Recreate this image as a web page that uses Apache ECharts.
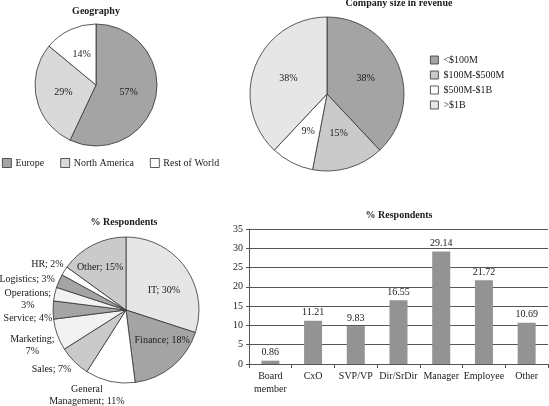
<!DOCTYPE html>
<html><head><meta charset="utf-8">
<script src="https://cdn.jsdelivr.net/npm/echarts@6/dist/echarts.min.js"></script>
<style>html,body{margin:0;padding:0;background:#fff}#c{width:549px;height:406px}</style>
</head><body><div id="c"></div>
<script>
// ---- data ----
const geoNames = ['Europe', 'North America', 'Rest of World'];
const geoValues = [57, 29, 14];

const sizeNames = ['<$100M', '$100M-$500M', '$500M-$1B', '>$1B'];
const sizeValues = [38, 15, 9, 38];

const funcNames = ['IT', 'Finance', 'General Management', 'Sales', 'Marketing', 'Service', 'Operations', 'Logistics', 'HR', 'Other'];
const funcValues = [30, 18, 11, 7, 7, 4, 3, 3, 2, 15];
const funcInside = ['IT', 'Finance', 'Other'];

const roleNames = ['Board\nmember', 'CxO', 'SVP/VP', 'Dir/SrDir', 'Manager', 'Employee', 'Other'];
const roleValues = [0.86, 11.21, 9.83, 16.55, 29.14, 21.72, 10.69];
const roleTicks = [0, 5, 10, 15, 20, 25, 30, 35];

// ---- styles ----
const FONT = '"Liberation Serif", "DejaVu Serif", serif';
const TXT = '#1a1a1a';
const LINE = '#333';
const geoColors = ['#a4a4a4', '#d9d9d9', '#ffffff'];
const sizeColors = ['#a4a4a4', '#cacaca', '#ffffff', '#e6e6e6'];
const funcColors = ['#e6e6e6', '#a4a4a4', '#ffffff', '#cacaca', '#f2f2f2', '#a4a4a4', '#f2f2f2', '#a4a4a4', '#ffffff', '#cacaca'];

function items(names, values, colors) {
  return names.map((n, i) => ({ name: n, value: values[i], itemStyle: { color: colors[i] } }));
}
const funcDisplay = { 'General Management': 'General\nManagement; ', 'Marketing': 'Marketing;\n', 'Operations': 'Operations;\n' };
const funcCentered = ['General Management', 'Marketing', 'Operations'];
// small label nudges (text placement only)
const funcNudge = {
  'IT': [6, 4], 'Finance': [11, 0], 'Other': [-8, -7],
  'HR': [6, -5], 'Logistics': [1, -4], 'Service': [0, -5], 'Sales': [-1, 6],
  'Operations': [0, -4], 'Marketing': [-4, 2], 'General Management': [20, 12]
};

const funcData = items(funcNames, funcValues, funcColors).map(d => {
  if (funcInside.includes(d.name)) d.label = { position: 'inside' };
  return d;
});

const chart = echarts.init(document.getElementById('c'), null, { renderer: 'canvas' });
const titleStyle = { fontFamily: FONT, fontSize: 10, fontWeight: 'bold', color: TXT };
chart.setOption({
  animation: false,
  textStyle: { fontFamily: FONT, color: TXT },
  title: [
    { text: 'Geography', left: 96, top: 6, textAlign: 'center', padding: 0, textStyle: titleStyle },
    { text: 'Company size in revenue', left: 399, top: -2, textAlign: 'center', padding: 0, textStyle: titleStyle },
    { text: '% Respondents', left: 124, top: 217, textAlign: 'center', padding: 0, textStyle: titleStyle },
    { text: '% Respondents', left: 399, top: 210, textAlign: 'center', padding: 0, textStyle: titleStyle }
  ],
  legend: [
    { data: geoNames, orient: 'horizontal', left: 2, top: 158, padding: 0, itemGap: 16, itemWidth: 9, itemHeight: 9,
      icon: 'rect', itemStyle: { borderColor: LINE, borderWidth: 0.8 },
      textStyle: { fontFamily: FONT, fontSize: 10, color: TXT, padding: [0, 0, 0, -1] } },
    { data: sizeNames, orient: 'vertical', left: 430, top: 54, padding: 0, itemGap: 3, itemWidth: 8, itemHeight: 8,
      icon: 'rect', itemStyle: { borderColor: LINE, borderWidth: 0.8 },
      textStyle: { fontFamily: FONT, fontSize: 10, color: TXT, lineHeight: 12 } }
  ],
  grid: { left: 249, right: 1, top: 229, bottom: 42 },
  xAxis: {
    type: 'category', data: roleNames,
    axisLine: { lineStyle: { color: '#555', width: 1 } },
    axisTick: { show: true, length: 4, lineStyle: { color: '#555' } },
    axisLabel: { fontFamily: FONT, fontSize: 10, color: TXT, margin: 6, lineHeight: 13, interval: 0 }
  },
  yAxis: {
    type: 'value', min: roleTicks[0], max: roleTicks[roleTicks.length - 1], interval: roleTicks[1] - roleTicks[0],
    axisLine: { show: true, lineStyle: { color: '#555', width: 1 } },
    axisTick: { show: true, length: 3, lineStyle: { color: '#555' } },
    splitLine: { show: true, lineStyle: { color: '#555', width: 1 } },
    axisLabel: { fontFamily: FONT, fontSize: 10, color: TXT, margin: 6 }
  },
  series: [
    { type: 'pie', name: 'Geography', center: [96, 85], radius: 61, startAngle: 90, clockwise: true,
      data: items(geoNames, geoValues, geoColors),
      itemStyle: { borderColor: LINE, borderWidth: 0.8 },
      label: { show: true, position: 'inside', formatter: '{c}%', fontFamily: FONT, fontSize: 10, color: TXT },
      emphasis: { disabled: true } },
    { type: 'pie', name: 'Company size', center: [327, 94], radius: 77, startAngle: 90, clockwise: true,
      data: items(sizeNames, sizeValues, sizeColors),
      itemStyle: { borderColor: LINE, borderWidth: 0.8 },
      label: { show: true, position: 'inside', formatter: '{c}%', fontFamily: FONT, fontSize: 10, color: TXT },
      emphasis: { disabled: true } },
    { type: 'pie', name: 'Function', center: [126, 310], radius: 73, startAngle: 90, clockwise: true,
      data: funcData,
      itemStyle: { borderColor: LINE, borderWidth: 0.8 },
      label: { show: true, position: 'outside', overflow: 'none', edgeDistance: 0, fontFamily: FONT, fontSize: 10, color: TXT, lineHeight: 12,
        formatter: p => (funcDisplay[p.name] || (p.name + '; ')) + p.value + '%' },
      labelLine: { show: false, length: 2, length2: 0 },
      labelLayout: p => {
        const n = funcNames[p.dataIndex];
        const d = funcNudge[n] || [0, 0];
        const r = p.labelRect;
        if (funcCentered.includes(n)) {
          return { x: r.x + r.width / 2 + d[0], y: r.y + r.height / 2 + d[1], align: 'center', verticalAlign: 'middle' };
        }
        return { dx: d[0], dy: d[1] };
      },
      emphasis: { disabled: true } },
    { type: 'bar', name: 'Role', data: roleValues, barWidth: 18,
      itemStyle: { color: '#939393' },
      label: { show: true, position: 'top', distance: 3, fontFamily: FONT, fontSize: 10, color: TXT,
        formatter: p => p.value.toFixed(2) },
      emphasis: { disabled: true } }
  ]
});
</script></body></html>
